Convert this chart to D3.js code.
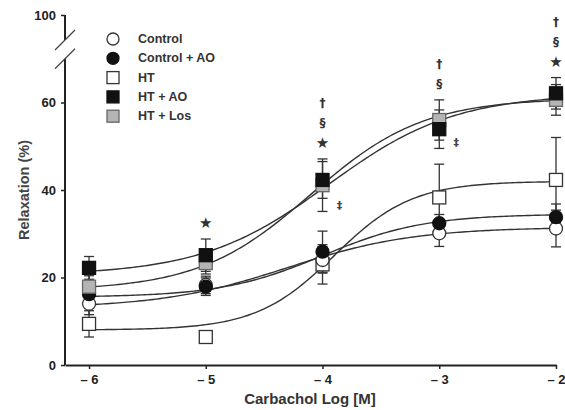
<!DOCTYPE html>
<html>
<head>
<meta charset="utf-8">
<script src="https://cdn.jsdelivr.net/npm/d3@7/dist/d3.min.js"></script>
<style>
  html, body { margin: 0; padding: 0; background: #fff; }
  svg { display: block; font-family: "Liberation Sans", Arial, sans-serif; }
</style>
</head>
<body>
<svg id="chart" width="565" height="410"></svg>
<script>
// Carbachol concentrations (log M) and tick labels
const logConc = [-6, -5, -4, -3, -2];
const xTickValues = [-6, -5, -4, -3, -2];
const yTickValues = [0, 20, 40, 60, 100];

// Group names (legend order)
const groups = ["Control", "Control + AO", "HT", "HT + AO", "HT + Los"];

// Mean relaxation (%) and SEM for each group
const controlMean   = [14.0, 18.3, 24.0, 30.1, 31.2];
const controlErr    = [2.5, 2.0, 3.0, 3.0, 4.2];
const controlAOMean = [16.2, 17.9, 25.9, 32.4, 33.8];
const controlAOErr  = [2.0, 2.0, 4.7, 2.0, 3.0];
const htMean        = [9.4, 6.4, 23.0, 38.3, 42.3];
const htErr         = [3.0, 0.8, 4.5, 7.6, 9.7];
const htAOMean      = [22.2, 25.1, 42.3, 53.9, 62.1];
const htAOErr       = [2.6, 3.7, 4.2, 4.4, 3.6];
const htLosMean     = [17.9, 23.3, 41.1, 56.0, 60.6];
const htLosErr      = [2.5, 2.5, 6.0, 4.6, 3.5];

// Sigmoidal fit parameters per group (bottom, top, logEC50, Hill slope)
const fitBottom  = [13.0, 15.5, 8.0, 20.5, 17.0];
const fitTop     = [31.5, 34.5, 42.0, 62.0, 61.0];
const fitLogEC50 = [-4.3, -4.0, -3.9, -3.95, -4.1];
const fitHill    = [0.8, 1.0, 1.3, 0.8, 0.9];

// Significance marks above each concentration
const markConc   = [-5, -4, -3, -2];
const markText   = [["\u2605"], ["\u2605", "\u00a7", "\u2020"], ["\u00a7", "\u2020"], ["\u2605", "\u00a7", "\u2020"]];
const ddaggerConc = [-4, -3];

const means = [controlMean, controlAOMean, htMean, htAOMean, htLosMean];
const errs  = [controlErr, controlAOErr, htErr, htAOErr, htLosErr];

// Marker styles
const shapes = ["circle", "circle", "square", "square", "square"];
const fills  = ["#fff", "#111", "#fff", "#111", "#b4b4b4"];
const strokes = ["#333", "#111", "#333", "#111", "#666"];

const svg = d3.select("#chart");
const ink = "#222";
const symbolFont = "'DejaVu Sans', sans-serif";

const x = d3.scaleLinear().domain([-6.206, -2]).range([65, 556]);
// broken axis: continuous 0-70, break, then 95-100
const y = d3.scaleLinear().domain([0, 70, 95, 100]).range([365, 58.75, 40, 15]);

// --- axes ---
const xAxis = d3.axisBottom(x).tickValues(xTickValues).tickSize(4).tickSizeOuter(0)
  .tickFormat(d => "\u2013 " + Math.abs(d));
const gx = svg.append("g").attr("transform", `translate(0,${y(0)})`).call(xAxis);
gx.select(".domain").attr("stroke", ink).attr("stroke-width", 2);
gx.selectAll(".tick line").attr("stroke", ink).attr("stroke-width", 1.5);
gx.selectAll(".tick text").attr("fill", ink).attr("font-size", 13).attr("font-weight", "bold").attr("dy", "0.95em");

const yAxis = d3.axisLeft(y).tickValues(yTickValues).tickSize(4).tickFormat(d3.format("d"));
const gy = svg.append("g").attr("transform", `translate(${x(-6.206)},0)`).call(yAxis);
gy.select(".domain").remove();
gy.selectAll(".tick line").attr("stroke", ink).attr("stroke-width", 1.5);
gy.selectAll(".tick text").attr("fill", ink).attr("font-size", 13).attr("font-weight", "bold").attr("x", -9);

const ax = x(-6.206);
// lower and upper axis segments
svg.append("line").attr("x1", ax).attr("x2", ax).attr("y1", y(0)).attr("y2", y(70))
  .attr("stroke", ink).attr("stroke-width", 2);
svg.append("line").attr("x1", ax).attr("x2", ax).attr("y1", y(95)).attr("y2", y(100))
  .attr("stroke", ink).attr("stroke-width", 2);
// break marks
[y(95), y(70)].forEach(cy => {
  svg.append("line").attr("x1", ax - 10).attr("y1", cy + 10).attr("x2", ax + 10).attr("y2", cy - 10)
    .attr("stroke", "#444").attr("stroke-width", 1.3);
});

// axis titles
svg.append("text").attr("x", 310).attr("y", 404).attr("text-anchor", "middle")
  .attr("font-size", 15).attr("font-weight", "bold").attr("fill", "#333").text("Carbachol Log [M]");
svg.append("text").attr("transform", `translate(29,${y(40)}) rotate(-90)`).attr("text-anchor", "middle")
  .attr("font-size", 14.5).attr("font-weight", "bold").attr("fill", "#444").text("Relaxation (%)");

// --- fitted curves ---
const samples = d3.range(0, 161).map(i => -6 + i * 4 / 160);
const line = d3.line().x(d => x(d[0])).y(d => y(d[1]));
groups.forEach((g, i) => {
  const f = c => fitBottom[i] + (fitTop[i] - fitBottom[i]) / (1 + Math.pow(10, (fitLogEC50[i] - c) * fitHill[i]));
  svg.append("path").datum(samples.map(c => [c, f(c)])).attr("d", line)
    .attr("fill", "none").attr("stroke", "#333").attr("stroke-width", 1.4);
});

// --- error bars ---
const cap = 5;
groups.forEach((g, i) => {
  const eg = svg.append("g").attr("stroke", "#333").attr("stroke-width", 1.3);
  logConc.forEach((c, j) => {
    const m = means[i][j], e = errs[i][j];
    const cx = x(c);
    eg.append("line").attr("x1", cx).attr("x2", cx).attr("y1", y(m - e)).attr("y2", y(m + e));
    eg.append("line").attr("x1", cx - cap).attr("x2", cx + cap).attr("y1", y(m + e)).attr("y2", y(m + e));
    eg.append("line").attr("x1", cx - cap).attr("x2", cx + cap).attr("y1", y(m - e)).attr("y2", y(m - e));
  });
});

// --- markers ---
function marker(sel, shape, cx, cy, fill, stroke, size) {
  if (shape === "circle") {
    sel.append("circle").attr("cx", cx).attr("cy", cy).attr("r", size / 2)
      .attr("fill", fill).attr("stroke", stroke).attr("stroke-width", 1.3);
  } else {
    sel.append("rect").attr("x", cx - size / 2).attr("y", cy - size / 2)
      .attr("width", size).attr("height", size)
      .attr("fill", fill).attr("stroke", stroke).attr("stroke-width", 1.3);
  }
}
const drawOrder = [2, 0, 1, 4, 3];
drawOrder.forEach(i => {
  const mg = svg.append("g");
  logConc.forEach((c, j) => marker(mg, shapes[i], x(c), y(means[i][j]), fills[i], strokes[i], 13));
});

// --- significance marks (grayscale-antialiased group) ---
const marks = svg.append("g").attr("opacity", 0.999)
  .attr("transform", "rotate(0.001)")
  .style("font-family", symbolFont);
markConc.forEach((c, k) => {
  const j = logConc.indexOf(c);
  const top = d3.max(means, (m, i) => m[j] + errs[i][j]);
  markText[k].forEach((t, n) => {
    marks.append("text").attr("x", x(c)).attr("y", y(top) - 16 - n * 20)
      .attr("text-anchor", "middle").attr("dominant-baseline", "central")
      .attr("font-size", t === "\u2605" ? 15 : 12).attr("font-weight", "bold")
      .attr("fill", "#333").text(t);
  });
});
ddaggerConc.forEach(c => {
  const j = logConc.indexOf(c);
  const low = Math.min(htAOMean[j] - htAOErr[j], htLosMean[j] - htLosErr[j]);
  marks.append("text").attr("x", x(c) + 17).attr("y", y(low) - 6)
    .attr("text-anchor", "middle").attr("dominant-baseline", "central")
    .attr("font-size", 11).attr("font-weight", "bold").attr("fill", "#444").text("\u2021");
});

// --- legend ---
const legend = svg.append("g").attr("transform", "translate(113,39)");
groups.forEach((g, i) => {
  const row = legend.append("g").attr("transform", `translate(0,${i * 19.3})`);
  marker(row, shapes[i], 0, 0, fills[i], strokes[i], 12);
  row.append("text").attr("x", 25).attr("y", 0).attr("dominant-baseline", "central")
    .attr("font-size", 12.5).attr("font-weight", "bold").attr("fill", "#333").text(g);
});
</script>
</body>
</html>
